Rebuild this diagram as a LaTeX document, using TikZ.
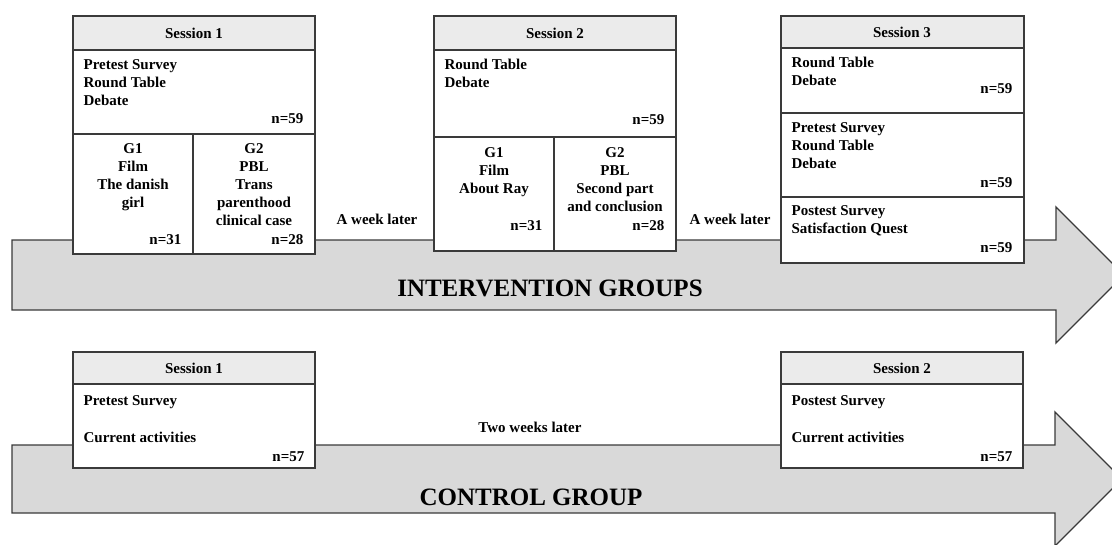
\documentclass[tikz,border=0pt]{standalone}
\usepackage{fontspec}
\setmainfont{Liberation Serif}
\usetikzlibrary{fit}
\definecolor{linec}{HTML}{3A3A3A}
\definecolor{arrowfill}{HTML}{D9D9D9}
\definecolor{hdrfill}{HTML}{EBEBEB}
\begin{document}
\begin{tikzpicture}[x=1pt,y=-1pt,line width=1.3pt,
  cell/.style={draw=linec,fill=white,inner sep=0pt},
  hdr/.style={draw=linec,fill=hdrfill,inner sep=0pt},
  bigarrow/.style={draw=linec,fill=arrowfill,line width=1.3pt,line join=miter},
  txt/.style={font=\bfseries\fontsize{15}{18}\selectfont,inner sep=0pt},
  big/.style={font=\bfseries\fontsize{25}{30}\selectfont,inner sep=0pt}]
\useasboundingbox (0,0) rectangle (1112,544);
\clip (0,0) rectangle (1112,544);
% arrows
\draw[bigarrow] (12,240) -- (1056,240) -- (1056,207) -- (1124,275) -- (1056,343) -- (1056,310) -- (12,310) -- cycle;
\draw[bigarrow] (12,445) -- (1055,445) -- (1055,412) -- (1122,479) -- (1055,546) -- (1055,513) -- (12,513) -- cycle;
\node[big,anchor=base] (ilab) at (550,296) {INTERVENTION GROUPS};
\node[big,anchor=base] (clab) at (531,505) {CONTROL GROUP};
% Intervention session 1
\node[hdr,fit={(73,16)(315,50)}] (i1h) {};
\node[cell,fit={(73,50)(315,134)}] (i1a) {};
\node[cell,fit={(73,134)(193,254)}] (i1g1) {};
\node[cell,fit={(193,134)(315,254)}] (i1g2) {};
\node[txt,anchor=base] (i1ht) at (194,38) {Session 1};
\foreach \l [count=\i] in {Pretest Survey,Round Table,Debate}
  \node[txt,anchor=base west] (i1a-\i) at (83,{69+18*(\i-1)}) {\l};
\node[txt,anchor=base east] (i1an) at (304,123) {n=59};
\foreach \l [count=\i] in {G1,Film,The danish,girl}
  \node[txt,anchor=base] (i1g1-\i) at (133,{153+18*(\i-1)}) {\l};
\node[txt,anchor=base east] (i1g1n) at (182,244) {n=31};
\foreach \l [count=\i] in {G2,PBL,Trans,parenthood,clinical case}
  \node[txt,anchor=base] (i1g2-\i) at (254,{153+18*(\i-1)}) {\l};
\node[txt,anchor=base east] (i1g2n) at (304,244) {n=28};
% Intervention session 2
\node[hdr,fit={(434,16)(676,50)}] (i2h) {};
\node[cell,fit={(434,50)(676,137)}] (i2a) {};
\node[cell,fit={(434,137)(554,251)}] (i2g1) {};
\node[cell,fit={(554,137)(676,251)}] (i2g2) {};
\node[txt,anchor=base] (i2ht) at (555,38) {Session 2};
\foreach \l [count=\i] in {Round Table,Debate}
  \node[txt,anchor=base west] (i2a-\i) at (444,{69+18*(\i-1)}) {\l};
\node[txt,anchor=base east] (i2an) at (665,124) {n=59};
\foreach \l [count=\i] in {G1,Film,About Ray}
  \node[txt,anchor=base] (i2g1-\i) at (494,{157+18*(\i-1)}) {\l};
\node[txt,anchor=base east] (i2g1n) at (543,230) {n=31};
\foreach \l [count=\i] in {G2,PBL,Second part,and conclusion}
  \node[txt,anchor=base] (i2g2-\i) at (615,{157+18*(\i-1)}) {\l};
\node[txt,anchor=base east] (i2g2n) at (665,230) {n=28};
% Intervention session 3
\node[hdr,fit={(781,16)(1024,48)}] (i3h) {};
\node[cell,fit={(781,48)(1024,113)}] (i3a) {};
\node[cell,fit={(781,113)(1024,197)}] (i3b) {};
\node[cell,fit={(781,197)(1024,263)}] (i3c) {};
\node[txt,anchor=base] (i3ht) at (902,37) {Session 3};
\foreach \l [count=\i] in {Round Table,Debate}
  \node[txt,anchor=base west] (i3a-\i) at (791,{67+18*(\i-1)}) {\l};
\node[txt,anchor=base east] (i3an) at (1013,93) {n=59};
\foreach \l [count=\i] in {Pretest Survey,Round Table,Debate}
  \node[txt,anchor=base west] (i3b-\i) at (791,{132+18*(\i-1)}) {\l};
\node[txt,anchor=base east] (i3bn) at (1013,187) {n=59};
\foreach \l [count=\i] in {Postest Survey,Satisfaction Quest}
  \node[txt,anchor=base west] (i3c-\i) at (791,{215+18*(\i-1)}) {\l};
\node[txt,anchor=base east] (i3cn) at (1013,252) {n=59};
% week labels
\node[txt,anchor=base] (w1) at (377,224) {A week later};
\node[txt,anchor=base] (w2) at (730,224) {A week later};
% Control session 1
\node[hdr,fit={(73,352)(315,384)}] (c1h) {};
\node[cell,fit={(73,384)(315,468)}] (c1a) {};
\node[txt,anchor=base] (c1ht) at (194,373) {Session 1};
\node[txt,anchor=base west] (c1t1) at (83,405) {Pretest Survey};
\node[txt,anchor=base west] (c1t2) at (83,442) {Current activities};
\node[txt,anchor=base east] (c1n) at (305,461) {n=57};
% Control session 2
\node[hdr,fit={(781,352)(1023,384)}] (c2h) {};
\node[cell,fit={(781,384)(1023,468)}] (c2a) {};
\node[txt,anchor=base] (c2ht) at (902,373) {Session 2};
\node[txt,anchor=base west] (c2t1) at (791,405) {Postest Survey};
\node[txt,anchor=base west] (c2t2) at (791,442) {Current activities};
\node[txt,anchor=base east] (c2n) at (1013,461) {n=57};
\node[txt,anchor=base] (tw) at (530,432) {Two weeks later};
\end{tikzpicture}
\end{document}
